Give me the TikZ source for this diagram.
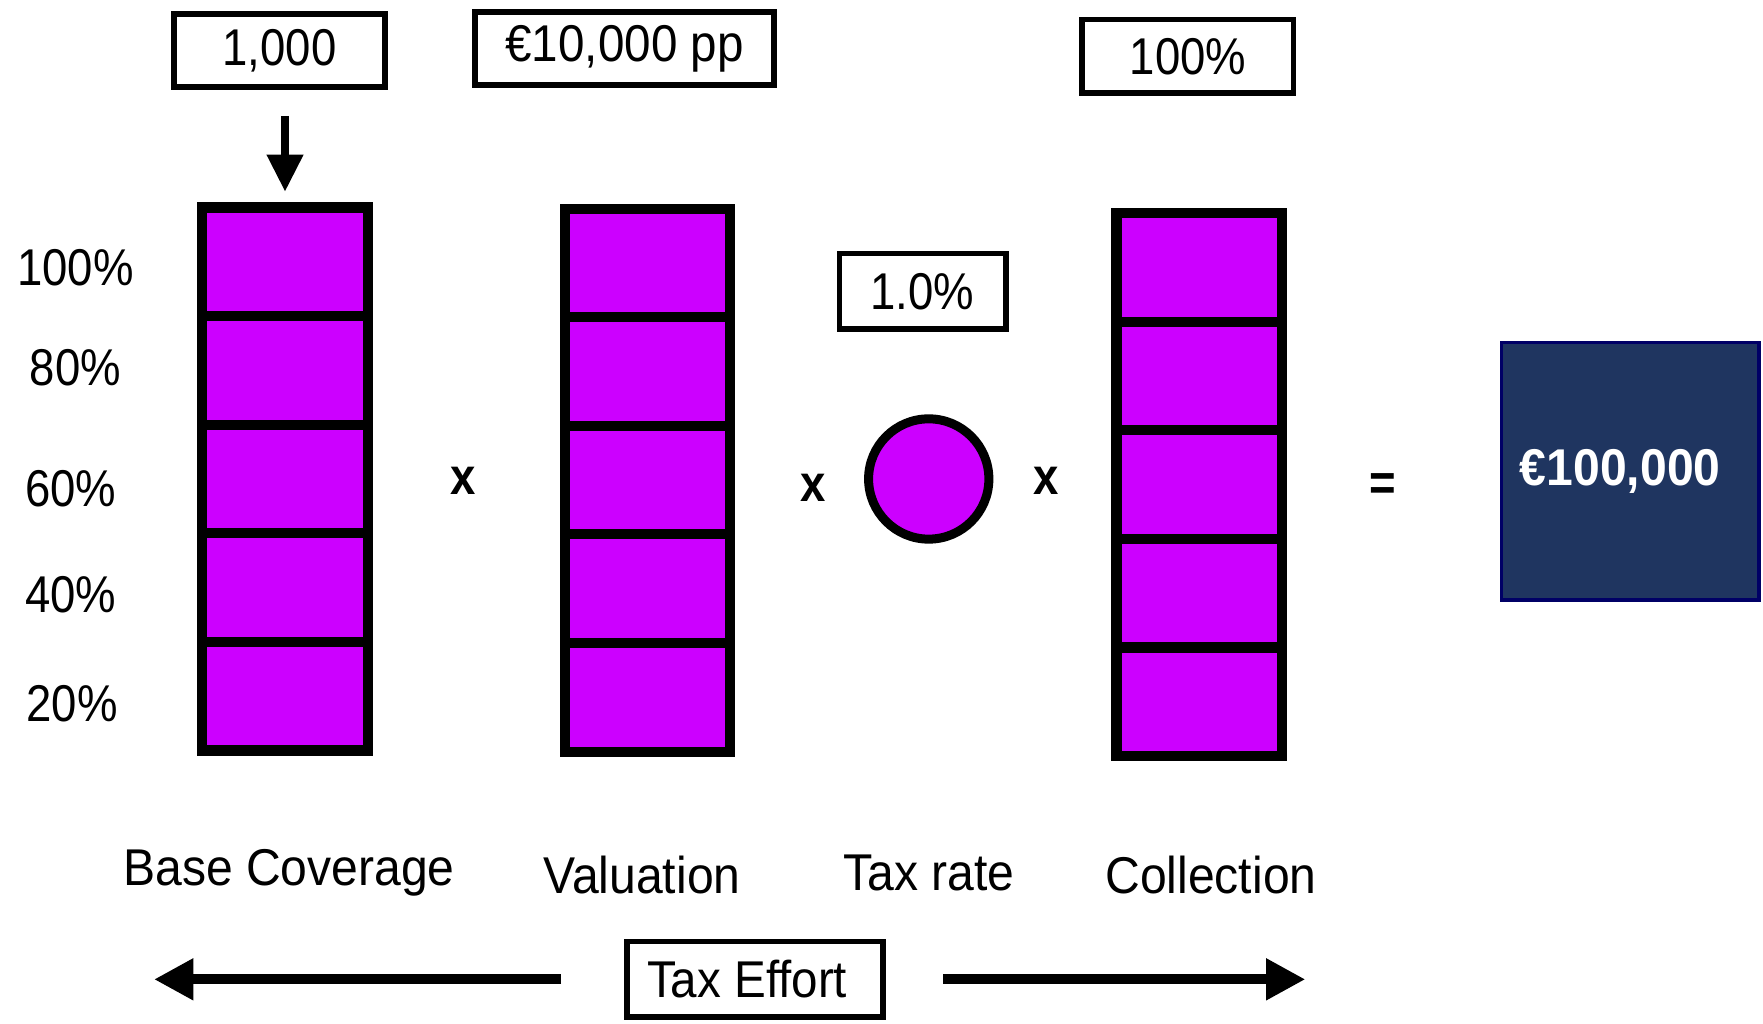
\documentclass[tikz,border=0pt]{standalone}
\usepackage{fontspec}
\setmainfont{Liberation Sans}
\usepackage{graphicx}
\usetikzlibrary{arrows.meta}
\definecolor{purp}{RGB}{204,0,255}
\definecolor{navyfill}{RGB}{31,53,96}
\definecolor{navyline}{RGB}{0,0,102}
\newcommand\sq[1]{\scalebox{0.88}[1]{#1}}
\newcommand\sqw[1]{\scalebox{0.93}[1]{#1}}
\begin{document}
\begin{tikzpicture}[x=0.5pt,y=-0.5pt,
  lbl/.style={inner sep=0pt, outer sep=0pt, font=\fontsize{23}{27}\selectfont},
  oplbl/.style={inner sep=0pt, outer sep=0pt, font=\fontsize{23}{27}\selectfont\bfseries},
  valbox/.style={draw, line width=2.5pt, inner sep=0pt, outer sep=0pt, minimum height=32.5pt, font=\fontsize{23}{27}\selectfont},
  cell/.style={draw, fill=purp, line width=4.5pt, inner sep=0pt, outer sep=0pt, minimum width=73.5pt, minimum height=48.3pt},
  ratecirc/.style={circle, draw, fill=purp, line width=4pt, inner sep=0pt, outer sep=0pt, minimum size=53.5pt},
  resbox/.style={draw=navyline, fill=navyfill, line width=1.5pt, inner sep=0pt, outer sep=0pt, minimum width=114.5pt, minimum height=114.5pt, text=white, font=\fontsize{23}{27}\selectfont\bfseries},
  downarrow/.style={line width=3.5pt, -{Triangle[length=16.5pt,width=15.5pt]}},
  effarrow/.style={line width=4.5pt, -{Triangle[length=17.5pt,width=17.5pt]}}
]
\useasboundingbox (0,0) rectangle (1568,910);

% value boxes
\node[valbox, minimum width=94pt] (b1) at (248.5,45) {\sq{1,000}};
\node[valbox, minimum width=133pt] (b2) at (555.5,43) {\raisebox{-1.5pt}{\scalebox{0.92}[1]{€10,000 pp}}};
\node[valbox, minimum width=94pt] (b4) at (1056.5,50) {\sq{100\%}};
\node[valbox, minimum width=74pt, minimum height=33.5pt] (b3) at (820.5,259) {\sq{1.0\%}};

% columns
\foreach \i in {0,...,4} {
  \node[cell] (c1\i) at (253.5,{232.8+96.6*\i}) {};
  \node[cell] (c2\i) at (576,{233.8+96.6*\i}) {};
  \node[cell] (c3\i) at (1066.5,{237.8+96.6*\i}) {};
}

% rate circle
\node[ratecirc] (rate) at (826,426) {};

% result
\node[resbox] (res) at (1450,419) {\hspace*{-9pt}\sqw{€100,000}};

% operators
\node[oplbl] (op1) at (412,428) {\sq{x}};
\node[oplbl] (op2) at (723,434) {\sq{x}};
\node[oplbl] (op3) at (930,428) {\sq{x}};
\node[oplbl] (op4) at (1230,433) {\sq{=}};

% percentage labels
\node[lbl] (p100) at (67,238) {\sq{100\%}};
\node[lbl] (p80) at (67,327) {\sq{80\%}};
\node[lbl] (p60) at (63,435) {\sq{60\%}};
\node[lbl] (p40) at (63,529) {\sq{40\%}};
\node[lbl] (p20) at (64,626) {\sq{20\%}};

% bottom labels
\node[lbl] (l1) at (257,776) {\sqw{Base Coverage}};
\node[lbl] (l2) at (571,778) {\sqw{Valuation}};
\node[lbl] (l3) at (826,776) {\sqw{Tax rate}};
\node[lbl] (l4) at (1077,778) {\sqw{Collection}};

% tax effort
\node[valbox, minimum width=114pt, minimum height=33.5pt] (te) at (671.5,871) {\hspace*{-7pt}\scalebox{0.92}[1]{Tax Effort}};
\coordinate (lefttip) at (137,871);
\coordinate (righttip) at (1161,871);

% arrows
\draw[downarrow, shorten <=12.75pt, shorten >=7pt] (c10.north |- b1.south) -- (c10.north);
\draw[effarrow, shorten <=29.25pt] (te.west) -- (lefttip);
\draw[effarrow, shorten <=26.75pt] (te.east) -- (righttip);
\end{tikzpicture}
\end{document}
